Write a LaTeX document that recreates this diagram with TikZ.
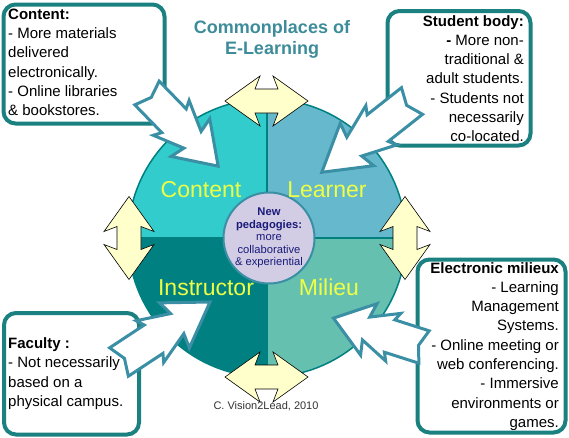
\documentclass[tikz,border=0pt]{standalone}
\usepackage{fontspec}
\setmainfont{Liberation Sans}
\usetikzlibrary{calc}

\definecolor{contentcol}{RGB}{51,204,204}
\definecolor{learnercol}{RGB}{102,184,204}
\definecolor{instructorcol}{RGB}{0,128,128}
\definecolor{milieucol}{RGB}{102,192,176}
\definecolor{labelcol}{RGB}{238,255,68}
\definecolor{boxcol}{RGB}{26,128,128}
\definecolor{boltcol}{RGB}{59,143,165}
\definecolor{titlecol}{RGB}{61,140,153}
\definecolor{hubfill}{RGB}{210,205,228}
\definecolor{hubtext}{RGB}{26,26,122}
\definecolor{swapfill}{RGB}{255,255,204}

\tikzset{
  infobox/.style={draw=boxcol, line width=4pt, rounded corners=12pt},
  infotext/.style={inner sep=0pt, font=\fontsize{15}{19.3}\selectfont},
  quadlabel/.style={text=labelcol, font=\fontsize{23}{23}\selectfont, anchor=base, inner sep=0pt},
  swaparrow/.style={fill=swapfill, draw=black, line width=0.6pt, line join=miter},
  boltarrow/.style={fill=white, draw=boltcol, line width=3pt, line join=miter},
  pics/swap/.style={code={
    \draw[swaparrow] (-41.5,0) -- (-6.5,-25) -- (-11.5,-12) -- (11.5,-12) -- (6.5,-25) -- (41.5,0)
      -- (6.5,25) -- (11.5,12) -- (-11.5,12) -- (-6.5,25) -- cycle;}},
  pics/bolt/.style={code={
    \draw[boltarrow] (0,17) -- ({0.38*#1},17) -- ({0.34*#1},25) -- ({0.64*#1},12) -- ({0.61*#1},27)
      -- (#1,0) -- ({0.61*#1},-27) -- ({0.64*#1},-12) -- ({0.34*#1},-25) -- ({0.38*#1},-17)
      -- (0,-17) -- ({0.06*#1},0) -- cycle;}},
}

\begin{document}
\begin{tikzpicture}[x=1pt,y=-1pt]
    \useasboundingbox (0,0) rectangle (569,437);
    \begin{scope}
        \clip (267,238) circle (139pt);
        \fill[contentcol] (120,90) rectangle (267,238);
        \fill[learnercol] (267,90) rectangle (420,238);
        \fill[instructorcol] (120,238) rectangle (267,390);
        \fill[milieucol] (267,238) rectangle (420,390);
    \end{scope}
    \draw[instructorcol, line width=1.5pt] (267,99) -- (267,377) (128,238) -- (406,238);
    \draw[instructorcol, line width=1.5pt] (267,238) circle (139pt);
    \node[circle, draw=boltcol, line width=2pt, fill=hubfill, minimum size=91pt, inner sep=0pt,
          align=center, text=hubtext, font=\fontsize{11.2}{12.4}\selectfont] (hub) at (269,238)
          {\textbf{New}\\\textbf{pedagogies:}\\more\\collaborative\\\& experiential};
    \pic at (266.5,101) {swap};
    \pic at (266.5,377) {swap};
    \pic[rotate=90] at (129,238) {swap};
    \pic[rotate=90] at (405,238) {swap};
    \draw[infobox] (3.5,4.5) rectangle (164.5,123.5);
    \draw[infobox] (387.5,11) rectangle (530.5,145.5);
    \draw[infobox] (4,313) rectangle (139,434.5);
    \draw[infobox] (417.5,259.5) rectangle (565.5,432.5);
    \pic[rotate=-45.8] at (147,93) {bolt=102};
    \pic[rotate=-141.7] at (412,101) {bolt=115};
    \pic[rotate=33.4] at (119,362) {bolt=109};
    \pic[rotate=162.3] at (424,347) {bolt=95};
    \node[quadlabel] (lcontent) at (201,197) {Content};
    \node[quadlabel] (llearner) at (327,197) {Learner};
    \node[quadlabel] (linstructor) at (206,295) {Instructor};
    \node[quadlabel] (lmilieu) at (329,295) {Milieu};
    \node[infotext, anchor=north west, align=left] (contenttext) at (8,8.5)
        {\textbf{Content:}\\- More materials\\delivered\\electronically.\\- Online libraries\\\& bookstores.};
    \node[infotext, anchor=north east, align=right] (studenttext) at (524,15)
        {\textbf{Student body:}\\\textbf{-} More non-\\traditional \&\\adult students.\\- Students not\\necessarily\\co-located.};
    \node[infotext, anchor=north west, align=left] (facultytext) at (8,337.5)
        {\textbf{Faculty :}\\- Not necessarily\\based on a\\physical campus.};
    \node[infotext, anchor=north east, align=right] (milieutext) at (559,262)
        {\textbf{Electronic milieux}\\- Learning\\Management\\Systems.\\- Online meeting or\\web conferencing.\\- Immersive\\environments or\\games.};
    \node[text=titlecol, font=\bfseries\fontsize{18}{21}\selectfont, align=center, anchor=north, inner sep=0pt]
        (title) at (272,20) {Commonplaces of\\E-Learning};
    \node[anchor=base, font=\fontsize{11}{13}\selectfont, text=black!80, inner sep=0pt] (credit) at (266,409)
        {C. Vision2Lead, 2010};
\end{tikzpicture}
\end{document}
